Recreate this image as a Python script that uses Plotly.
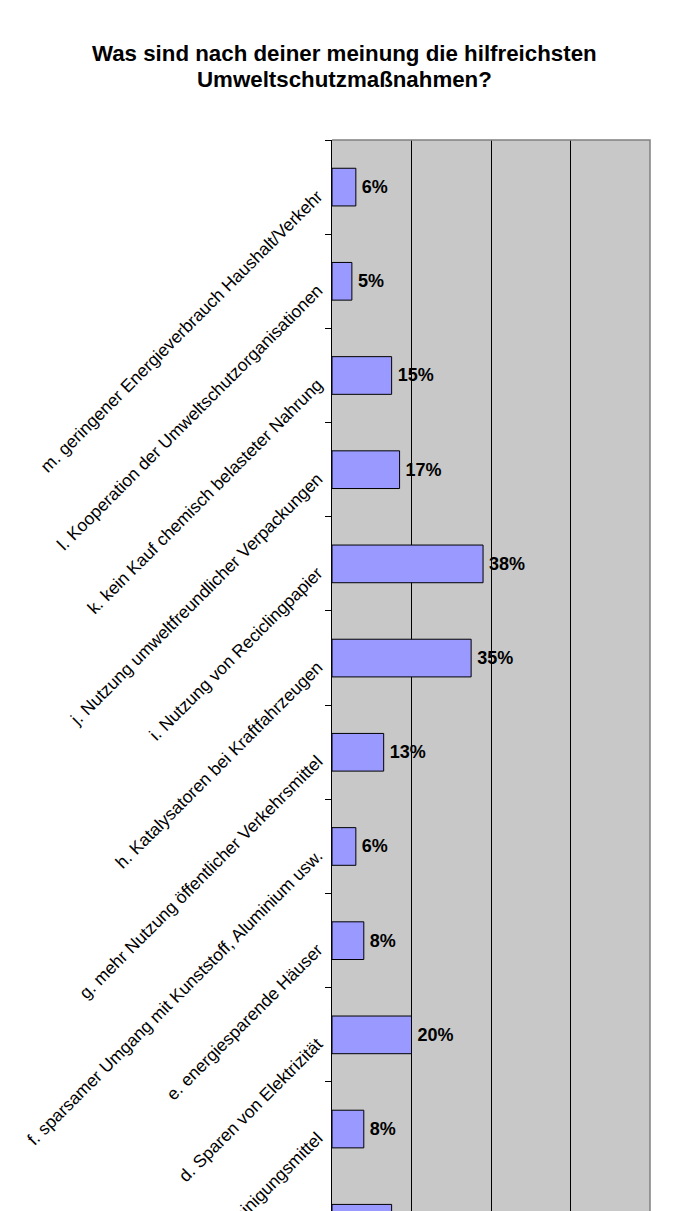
import plotly.graph_objects as go

categories = [
    "m. geringener Energieverbrauch Haushalt/Verkehr",
    "l. Kooperation der Umweltschutzorganisationen",
    "k. kein Kauf chemisch belasteter Nahrung",
    "j. Nutzung umweltfreundlicher Verpackungen",
    "i. Nutzung von Reciclingpapier",
    "h. Katalysatoren bei Kraftfahrzeugen",
    "g. mehr Nutzung öffentlicher Verkehrsmittel",
    "f. sparsamer Umgang mit Kunststoff, Aluminium usw.",
    "e. energiesparende Häuser",
    "d. Sparen von Elektrizität",
    "c. umweltfreundliche Reinigungsmittel",
    "b.",
]
values = [6, 5, 15, 17, 38, 35, 13, 6, 8, 20, 8, 15]
grid_ticks = [20, 40, 60]
title_lines = ["Was sind nach deiner meinung die hilfreichsten", "Umweltschutzmaßnahmen?"]

fig = go.Figure(go.Bar(
    x=values, y=categories, orientation="h",
    marker=dict(color="#9999FF", line=dict(color="black", width=1)),
    texttemplate="\u2006<b>%{x}%</b>", textposition="outside",
    textfont=dict(family="Liberation Sans, Arial", size=18, color="black"),
    cliponaxis=False, hoverinfo="skip",
))

# page body has an 8px margin, so the figure is sized to fill the rest of the window
FIG_H = 1203
TOP = 132
PLOT_H = FIG_H - TOP


def paper_y(window_y):
    return 1 + (TOP - (window_y - 8)) / PLOT_H


annotations = [
    dict(text=f"<b>{line}</b>", xref="paper", yref="paper", x=(336 - 324) / 318,
         y=paper_y(wy), xanchor="center", yanchor="middle", showarrow=False,
         font=dict(family="Liberation Sans, Arial", size=22.3, color="black"))
    for line, wy in zip(title_lines, [53, 80])
]

fig.update_layout(
    width=682, height=FIG_H,
    margin=dict(l=324, r=40, t=TOP, b=0, autoexpand=False),
    paper_bgcolor="white", plot_bgcolor="#C8C8C8",
    bargap=0.6, showlegend=False,
    annotations=annotations,
    font=dict(family="Liberation Sans, Arial", color="black"),
    xaxis=dict(range=[0, 80], tickvals=grid_ticks, showticklabels=False,
               showgrid=True, gridcolor="black", gridwidth=1, zeroline=False,
               ticks="", fixedrange=True, automargin=False),
    yaxis=dict(type="category", categoryorder="array", categoryarray=categories,
               range=[10.87, -0.5], tickangle=-45, ticks="outside", ticklen=6,
               tickcolor="black", tickson="boundaries", showline=True,
               linecolor="black", linewidth=1, showgrid=False, automargin=False,
               ticklabelstandoff=10, ticklabelshift=-7,
               tickfont=dict(family="Liberation Sans, Arial", size=17.5, color="black")),
    shapes=[dict(type="path", xref="paper", yref="paper",
                 path="M 0,1 L 1,1 L 1,0", line=dict(color="#808080", width=1.5),
                 layer="above")],
)

fig.write_html("out.html")
